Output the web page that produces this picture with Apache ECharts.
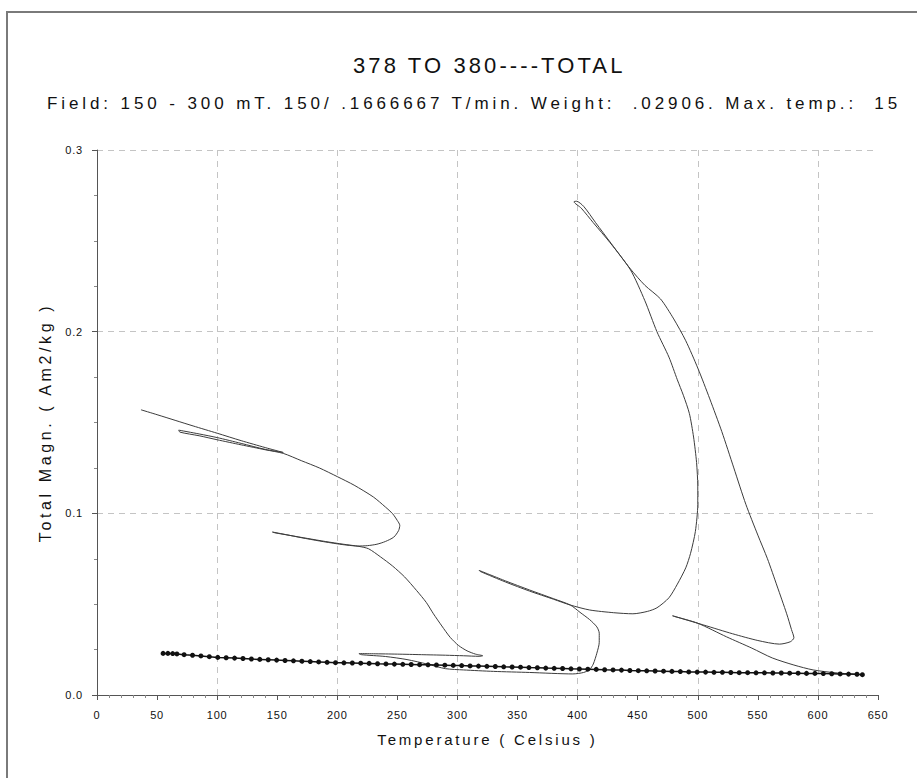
<!DOCTYPE html>
<html>
<head>
<meta charset="utf-8">
<script src="https://cdn.jsdelivr.net/npm/echarts@6/dist/echarts.min.js"></script>
<style>
html,body{margin:0;padding:0;background:#fff;}
#chart{width:917px;height:778px;}
</style>
</head>
<body>
<div id="chart"></div>
<script>
// ---- texts ----
var titleText = "378 TO 380----TOTAL";
var subtitleText = "Field: 150 - 300 mT. 150/ .1666667 T/min. Weight:  .02906. Max. temp.:  15";
var xName = "Temperature ( Celsius )";
var yName = "Total Magn. ( Am2/kg )";
var xTicks = [0, 50, 100, 150, 200, 250, 300, 350, 400, 450, 500, 550, 600, 650];
var yTicks = [0.0, 0.1, 0.2, 0.3];

// ---- stepwise heating / cooling run (temperature, magnetization) ----
var runT = [
  36.6, 50, 65, 80, 100, 120, 140, 155,
  140, 120, 100, 85, 68,
  69, 85, 100, 120, 140, 155, 170, 185, 200, 214, 230, 240, 246, 250, 252,
  251, 247, 240, 233, 225, 217, 208, 200, 185, 170, 158, 146,
  148, 160, 175, 190, 205, 218, 226, 236, 246, 256, 266, 274, 280, 287, 294, 301, 308, 315, 321,
  318, 305, 290, 270, 250, 230, 218,
  220, 240, 258, 275, 290, 305, 330, 360, 396, 405, 410, 413, 416, 418, 418,
  416, 410, 402, 394, 380, 360, 340, 318,
  319, 340, 360, 380, 394, 410, 430, 446, 458, 466, 476, 483, 490, 494, 498, 500,
  500, 499, 496.5, 493, 488, 483, 476, 466, 456, 444, 427, 413, 403, 397,
  399, 405, 415, 428, 444, 456, 469, 480, 490, 500, 510, 520, 530, 540, 550, 558, 566, 574, 578, 580,
  577, 568, 550, 529, 505, 479,
  481, 500, 524, 545, 562, 580, 596, 615, 636
];
var runM = [
  0.1570, 0.1543, 0.1512, 0.1481, 0.1441, 0.1400, 0.1362, 0.1335,
  0.1352, 0.1385, 0.1417, 0.1437, 0.1458,
  0.1447, 0.1427, 0.1405, 0.1377, 0.1350, 0.1330, 0.1290, 0.1250, 0.1202, 0.1155, 0.1090, 0.1035, 0.0998, 0.0960, 0.0934,
  0.0905, 0.0869, 0.0845, 0.0830, 0.0822, 0.0820, 0.0825, 0.0832, 0.0848, 0.0866, 0.0882, 0.0897,
  0.0893, 0.0879, 0.0862, 0.0845, 0.0830, 0.0818, 0.0805, 0.0760, 0.0710, 0.0650, 0.0575, 0.0510, 0.0447, 0.0380, 0.0317, 0.0272, 0.0243, 0.0225, 0.0216,
  0.0213, 0.0216, 0.0219, 0.0222, 0.0225, 0.0227, 0.0228,
  0.0222, 0.0212, 0.0195, 0.0170, 0.0145, 0.0138, 0.0130, 0.0124, 0.0116, 0.0124, 0.0140, 0.0170, 0.0230, 0.0290, 0.0340,
  0.0375, 0.0415, 0.0455, 0.0495, 0.0530, 0.0578, 0.0628, 0.0686,
  0.0680, 0.0622, 0.0572, 0.0527, 0.0495, 0.0468, 0.0453, 0.0447, 0.0460, 0.0480, 0.0535, 0.0610, 0.0700, 0.0780, 0.0900, 0.1050,
  0.1150, 0.1280, 0.1420, 0.1550, 0.1650, 0.1735, 0.1860, 0.2000, 0.2170, 0.2340, 0.2490, 0.2600, 0.2680, 0.2715,
  0.2718, 0.2690, 0.2600, 0.2485, 0.2345, 0.2255, 0.2180, 0.2070, 0.1950, 0.1800, 0.1630, 0.1450, 0.1250, 0.1050, 0.0880, 0.0750, 0.0600, 0.0447, 0.0360, 0.0315,
  0.0293, 0.0280, 0.0300, 0.0337, 0.0385, 0.0436,
  0.0432, 0.0395, 0.0320, 0.0258, 0.0204, 0.0165, 0.0138, 0.0122, 0.0112
];

// ---- final cooling curve (marked points) ----
var coolT = [
  55, 59, 63, 66.5, 72.5, 79.5, 86.5, 93.5, 100.5, 107.5, 114.5, 121.5, 128.5, 135.5, 142.5, 149.5,
  156.5, 163.5, 170.5, 177.5, 184.5, 191.5, 198.5, 205.5, 212.5, 219.5, 226.5, 233.5, 240.5, 247.5,
  254.5, 261.5, 268.5, 275.5, 282.5, 289.5, 296.5, 303.5, 310.5, 317.5, 324.5, 331.5, 338.5, 345.5,
  352.5, 359.5, 366.5, 373.5, 380.5, 387.5, 394.5, 401.5, 408.5, 415.5, 422.5, 429.5, 436.5, 443.5,
  450.5, 457.5, 464.5, 471.5, 478.5, 485.5, 492.5, 499.5, 506.5, 513.5, 520.5, 527.5, 534.5, 541.5,
  548.5, 555.5, 562.5, 569.5, 576.5, 583.5, 590.5, 597.5, 604.5, 611.5, 618.5, 625.5, 632.5, 637
];
var coolM = [
  0.0229, 0.0229, 0.0228, 0.0226, 0.0222, 0.0219, 0.0215, 0.0211, 0.0207, 0.0205, 0.0203, 0.0201, 0.0198, 0.0196, 0.0194, 0.0192,
  0.0190, 0.0188, 0.0186, 0.0184, 0.0182, 0.0180, 0.0178, 0.0177, 0.0176, 0.0175, 0.0174, 0.0172, 0.0171, 0.0170,
  0.0169, 0.0168, 0.0167, 0.0166, 0.0165, 0.0164, 0.0163, 0.0162, 0.0160, 0.0159, 0.0158, 0.0157, 0.0155, 0.0154,
  0.0153, 0.0151, 0.0150, 0.0148, 0.0147, 0.0146, 0.0144, 0.0143, 0.0142, 0.0141, 0.0139, 0.0138, 0.0137, 0.0135,
  0.0134, 0.0133, 0.0132, 0.0131, 0.0130, 0.0129, 0.0127, 0.0126, 0.0126, 0.0125, 0.0125, 0.0124, 0.0123, 0.0123,
  0.0122, 0.0122, 0.0121, 0.0121, 0.0120, 0.0120, 0.0119, 0.0119, 0.0118, 0.0117, 0.0116, 0.0115, 0.0114, 0.0112
];

function pairs(a, b) { return a.map(function (v, i) { return [v, b[i]]; }); }

var FONT = "'Liberation Sans', Arial, sans-serif";
var GRIDLINE = { show: true, showMinLine: false, showMaxLine: false,
  lineStyle: { color: '#c4c4c4', type: [6, 5], width: 1 } };
var chart = echarts.init(document.getElementById('chart'), null, { renderer: 'svg' });

chart.setOption({
  animation: false,
  backgroundColor: '#fff',
  textStyle: { fontFamily: FONT },
  graphic: [{
    type: 'rect', silent: true, z: 100,
    shape: { x: 7, y: 12, width: 930, height: 800 },
    style: { fill: 'none', stroke: '#7a7a7a', lineWidth: 2 }
  }],
  title: [
    { text: titleText, left: 348, top: 49,
      textStyle: { fontFamily: FONT, fontSize: 22, fontWeight: 'normal', color: '#111' } },
    { text: subtitleText, left: 42, top: 90,
      textStyle: { fontFamily: FONT, fontSize: 17, fontWeight: 'normal', color: '#111' } }
  ],
  grid: { left: 97, right: 39, top: 150, bottom: 83, containLabel: false },
  xAxis: [{
    type: 'value', min: xTicks[0], max: xTicks[xTicks.length - 1], interval: 50,
    name: xName, nameLocation: 'middle', nameGap: 37,
    nameTextStyle: { fontFamily: FONT, fontSize: 15, color: '#111' },
    axisLine: { show: true, onZero: false, lineStyle: { color: '#555', width: 1 } },
    axisTick: { show: true, length: 5, lineStyle: { color: '#555' } },
    minorTick: { show: true, splitNumber: 5, length: 3, lineStyle: { color: '#888' } },
    axisLabel: { fontFamily: FONT, fontSize: 11, color: '#111', margin: 14 },
    splitLine: { show: false }
  }, {
    type: 'value', min: xTicks[0], max: xTicks[xTicks.length - 1], interval: 100,
    position: 'bottom',
    axisLine: { show: false }, axisTick: { show: false }, axisLabel: { show: false },
    splitLine: GRIDLINE
  }],
  yAxis: {
    type: 'value', min: yTicks[0], max: yTicks[yTicks.length - 1], interval: 0.1,
    name: yName, nameLocation: 'middle', nameGap: 44, nameRotate: 90,
    nameTextStyle: { fontFamily: FONT, fontSize: 16, color: '#111' },
    axisLine: { show: true, onZero: false, lineStyle: { color: '#555', width: 1 } },
    axisTick: { show: true, length: 5, lineStyle: { color: '#555' } },
    minorTick: { show: true, splitNumber: 4, length: 3, lineStyle: { color: '#888' } },
    axisLabel: { fontFamily: FONT, fontSize: 11, color: '#111', margin: 14,
      formatter: function (v) { return v.toFixed(1); } },
    splitLine: { show: true, showMinLine: false, showMaxLine: true,
      lineStyle: { color: '#c4c4c4', type: [6, 5], width: 1 } }
  },
  series: [
    { type: 'line', name: 'run', xAxisIndex: 0, data: pairs(runT, runM), showSymbol: false, symbol: 'none',
      smooth: 0.25, lineStyle: { color: '#3c3c3c', width: 1 }, z: 3 },
    { type: 'line', name: 'cooling', xAxisIndex: 0, data: pairs(coolT, coolM), symbol: 'circle', symbolSize: 5,
      showSymbol: true, itemStyle: { color: '#111' }, lineStyle: { color: '#111', width: 1.5 }, z: 4 }
  ]
});

function applySpacing() {
  var texts = document.querySelectorAll('#chart text');
  texts.forEach(function (t) {
    var s = t.textContent;
    var sp = 0.8;
    if (s === titleText) sp = 3.1;
    else if (s === subtitleText) sp = 3.9;
    else if (s === xName) sp = 2.8;
    else if (s === yName) sp = 3.6;
    t.setAttribute('letter-spacing', sp);
    t.style.letterSpacing = sp + 'px';
  });
}
applySpacing();
chart.on('finished', applySpacing);
</script>
</body>
</html>
